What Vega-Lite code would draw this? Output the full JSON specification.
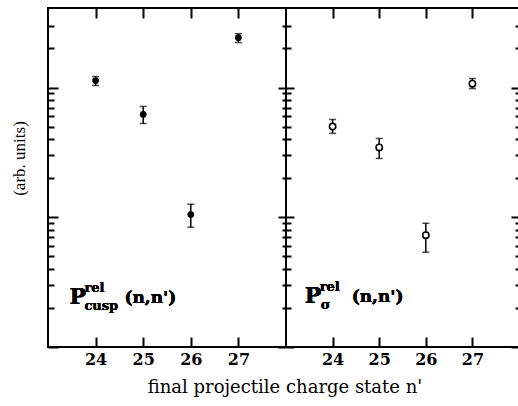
{
  "$schema": "https://vega.github.io/schema/vega-lite/v6.json",
  "padding": {"left": 9, "top": 6, "right": 0, "bottom": 5},
  "spacing": 0,
  "bounds": "flush",
  "config": {
    "view": {"stroke": "black", "strokeWidth": 2},
    "font": "Liberation Serif",
    "axis": {"domain": false, "grid": false, "tickColor": "black", "tickWidth": 2, "labels": false, "title": null}
  },
  "title": {"text": "final projectile charge state n'", "orient": "bottom", "anchor": "middle", "dx": 20, "font": "DejaVu Serif", "fontSize": 18, "fontWeight": "normal", "color": "black", "offset": 11},
  "hconcat": [
    {
      "width": 238,
      "height": 339,
      "data": {"values": [
        {"n": 24, "v": 1.13, "lo": 1.036, "hi": 1.215},
        {"n": 25, "v": 0.62, "lo": 0.528, "hi": 0.714},
        {"n": 26, "v": 0.105, "lo": 0.0838, "hi": 0.126},
        {"n": 27, "v": 2.42, "lo": 2.22, "hi": 2.6}
      ]},
      "layer": [
        {
          "mark": {"type": "rule", "strokeWidth": 1.5, "color": "black"},
          "encoding": {
            "x": {"field": "n", "type": "quantitative", "scale": {"domain": [23, 28], "nice": false, "zero": false},
                  "axis": {"orient": "top", "values": [24, 25, 26, 27], "tickSize": -10, "tickColor": "black", "tickWidth": 2}},
            "y": {"field": "lo", "type": "quantitative", "scale": {"type": "log", "domain": [0.01, 4.1], "nice": false},
                  "axis": {"orient": "right", "values": [0.01, 0.02, 0.03, 0.04, 0.05, 0.06, 0.07, 0.08, 0.09, 0.1, 0.2, 0.3, 0.4, 0.5, 0.6, 0.7, 0.8, 0.9, 1, 2, 3], "tickColor": "black", "tickWidth": 2,
                           "tickSize": {"condition": {"test": "datum.value == 0.01 || datum.value == 0.1 || datum.value == 1", "value": -8}, "value": -4}}},
            "y2": {"field": "hi"}
          }
        },
        {
          "mark": {"type": "tick", "orient": "horizontal", "size": 7, "thickness": 1.5, "color": "black"},
          "encoding": {
            "x": {"field": "n", "type": "quantitative", "axis": {"orient": "bottom", "values": [24, 25, 26, 27], "tickSize": -10, "tickColor": "black", "tickWidth": 2, "labels": true, "labelPadding": 14, "labelFont": "DejaVu Serif", "labelFontSize": 16, "labelFontWeight": "bold", "labelColor": "black"}},
            "y": {"field": "lo", "type": "quantitative", "axis": {"orient": "left", "values": [0.01, 0.02, 0.03, 0.04, 0.05, 0.06, 0.07, 0.08, 0.09, 0.1, 0.2, 0.3, 0.4, 0.5, 0.6, 0.7, 0.8, 0.9, 1, 2, 3], "tickColor": "black", "tickWidth": 2,
                           "tickSize": {"condition": {"test": "datum.value == 0.01 || datum.value == 0.1 || datum.value == 1", "value": -10}, "value": -6},
                           "title": "(arb. units)", "titleFont": "Liberation Serif", "titleFontSize": 17, "titleFontWeight": "normal", "titleColor": "black", "titlePadding": 19, "titleY": 150}}
          }
        },
        {
          "mark": {"type": "tick", "orient": "horizontal", "size": 7, "thickness": 1.5, "color": "black"},
          "encoding": {
            "x": {"field": "n", "type": "quantitative", "axis": null},
            "y": {"field": "hi", "type": "quantitative", "axis": null}
          }
        },
        {
          "mark": {"type": "point", "filled": true, "size": 45, "color": "black", "opacity": 1},
          "encoding": {
            "x": {"field": "n", "type": "quantitative", "axis": null},
            "y": {"field": "v", "type": "quantitative", "axis": null}
          }
        },
        {
          "mark": {"type": "text", "text": "P", "font": "DejaVu Serif", "fontSize": 22, "fontWeight": "bold", "align": "left", "baseline": "alphabetic", "color": "black"},
          "encoding": {"x": {"datum": 23.45, "type": "quantitative", "axis": null}, "y": {"datum": 0.0214, "type": "quantitative", "axis": null}}
        },
        {
          "mark": {"type": "text", "text": "rel", "font": "DejaVu Serif", "fontSize": 13, "fontWeight": "bold", "align": "left", "baseline": "alphabetic", "dx": 15, "dy": -12, "color": "black"},
          "encoding": {"x": {"datum": 23.45, "type": "quantitative", "axis": null}, "y": {"datum": 0.0214, "type": "quantitative", "axis": null}}
        },
        {
          "mark": {"type": "text", "text": "cusp", "font": "DejaVu Serif", "fontSize": 13, "fontWeight": "bold", "align": "left", "baseline": "alphabetic", "dx": 15, "dy": 6, "color": "black"},
          "encoding": {"x": {"datum": 23.45, "type": "quantitative", "axis": null}, "y": {"datum": 0.0214, "type": "quantitative", "axis": null}}
        },
        {
          "mark": {"type": "text", "text": "(n,n')", "font": "DejaVu Serif", "fontSize": 17, "fontWeight": "bold", "align": "left", "baseline": "alphabetic", "dx": 55, "dy": -1, "color": "black"},
          "encoding": {"x": {"datum": 23.45, "type": "quantitative", "axis": null}, "y": {"datum": 0.0214, "type": "quantitative", "axis": null}}
        }
      ],
      "resolve": {"axis": {"x": "independent", "y": "independent"}}
    },
    {
      "width": 233,
      "height": 339,
      "data": {"values": [
        {"n": 24, "v": 0.5, "lo": 0.443, "hi": 0.567},
        {"n": 25, "v": 0.345, "lo": 0.284, "hi": 0.405},
        {"n": 26, "v": 0.0727, "lo": 0.0538, "hi": 0.0899},
        {"n": 27, "v": 1.07, "lo": 0.982, "hi": 1.173}
      ]},
      "layer": [
        {
          "mark": {"type": "rule", "strokeWidth": 1.5, "color": "black"},
          "encoding": {
            "x": {"field": "n", "type": "quantitative", "scale": {"domain": [23, 28], "nice": false, "zero": false},
                  "axis": {"orient": "top", "values": [24, 25, 26, 27], "tickSize": -10, "tickColor": "black", "tickWidth": 2}},
            "y": {"field": "lo", "type": "quantitative", "scale": {"type": "log", "domain": [0.01, 4.1], "nice": false},
                  "axis": {"orient": "right", "values": [0.01, 0.02, 0.03, 0.04, 0.05, 0.06, 0.07, 0.08, 0.09, 0.1, 0.2, 0.3, 0.4, 0.5, 0.6, 0.7, 0.8, 0.9, 1, 2, 3], "tickColor": "black", "tickWidth": 2,
                           "tickSize": {"condition": {"test": "datum.value == 0.01 || datum.value == 0.1 || datum.value == 1", "value": -8}, "value": -4}}},
            "y2": {"field": "hi"}
          }
        },
        {
          "mark": {"type": "tick", "orient": "horizontal", "size": 7, "thickness": 1.5, "color": "black"},
          "encoding": {
            "x": {"field": "n", "type": "quantitative", "axis": {"orient": "bottom", "values": [24, 25, 26, 27], "tickSize": -10, "tickColor": "black", "tickWidth": 2, "labels": true, "labelPadding": 14, "labelFont": "DejaVu Serif", "labelFontSize": 16, "labelFontWeight": "bold", "labelColor": "black"}},
            "y": {"field": "lo", "type": "quantitative", "axis": {"orient": "left", "values": [0.01, 0.02, 0.03, 0.04, 0.05, 0.06, 0.07, 0.08, 0.09, 0.1, 0.2, 0.3, 0.4, 0.5, 0.6, 0.7, 0.8, 0.9, 1, 2, 3], "tickColor": "black", "tickWidth": 2,
                           "tickSize": {"condition": {"test": "datum.value == 0.01 || datum.value == 0.1 || datum.value == 1", "value": -8}, "value": -5}}}
          }
        },
        {
          "mark": {"type": "tick", "orient": "horizontal", "size": 7, "thickness": 1.5, "color": "black"},
          "encoding": {
            "x": {"field": "n", "type": "quantitative", "axis": null},
            "y": {"field": "hi", "type": "quantitative", "axis": null}
          }
        },
        {
          "mark": {"type": "point", "filled": false, "size": 40, "strokeWidth": 1.6, "color": "black", "fill": "white", "opacity": 1},
          "encoding": {
            "x": {"field": "n", "type": "quantitative", "axis": null},
            "y": {"field": "v", "type": "quantitative", "axis": null}
          }
        },
        {
          "mark": {"type": "text", "text": "P", "font": "DejaVu Serif", "fontSize": 22, "fontWeight": "bold", "align": "left", "baseline": "alphabetic", "color": "black"},
          "encoding": {"x": {"datum": 23.4, "type": "quantitative", "axis": null}, "y": {"datum": 0.0219, "type": "quantitative", "axis": null}}
        },
        {
          "mark": {"type": "text", "text": "rel", "font": "DejaVu Serif", "fontSize": 13, "fontWeight": "bold", "align": "left", "baseline": "alphabetic", "dx": 15, "dy": -12, "color": "black"},
          "encoding": {"x": {"datum": 23.4, "type": "quantitative", "axis": null}, "y": {"datum": 0.0219, "type": "quantitative", "axis": null}}
        },
        {
          "mark": {"type": "text", "text": "σ", "font": "DejaVu Serif", "fontSize": 13, "fontWeight": "bold", "align": "left", "baseline": "alphabetic", "dx": 16, "dy": 6, "color": "black"},
          "encoding": {"x": {"datum": 23.4, "type": "quantitative", "axis": null}, "y": {"datum": 0.0219, "type": "quantitative", "axis": null}}
        },
        {
          "mark": {"type": "text", "text": "(n,n')", "font": "DejaVu Serif", "fontSize": 17, "fontWeight": "bold", "align": "left", "baseline": "alphabetic", "dx": 47, "dy": -1, "color": "black"},
          "encoding": {"x": {"datum": 23.4, "type": "quantitative", "axis": null}, "y": {"datum": 0.0219, "type": "quantitative", "axis": null}}
        }
      ],
      "resolve": {"axis": {"x": "independent", "y": "independent"}}
    }
  ]
}
